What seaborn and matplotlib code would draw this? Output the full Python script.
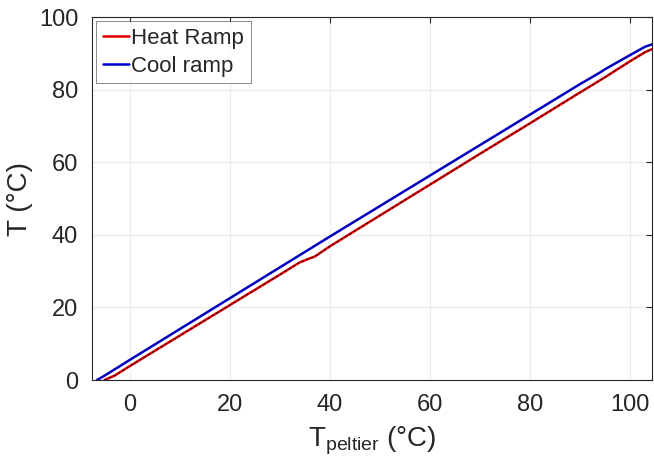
import matplotlib
matplotlib.use("Agg")
import matplotlib.pyplot as plt
import seaborn as sns
import pandas as pd

heat_x = [-5.0, -3.0, 0.0, 10.0, 20.0, 30.0, 34.0, 36.0, 37.0, 40.0, 50.0, 60.0, 70.0, 80.0, 90.0, 95.0, 100.0, 103.0, 104.5]
heat_y = [0.0, 1.2, 3.8, 12.2, 20.6, 29.0, 32.4, 33.5, 34.0, 36.8, 45.3, 53.8, 62.3, 70.7, 79.2, 83.4, 87.8, 90.3, 91.2]
cool_x = [-6.5, -5.0, 0.0, 10.0, 20.0, 30.0, 40.0, 50.0, 60.0, 70.0, 80.0, 90.0, 94.0, 95.0, 100.0, 103.0, 104.5]
cool_y = [0.0, 1.2, 5.5, 14.0, 22.5, 31.0, 39.5, 47.9, 56.3, 64.7, 73.1, 81.5, 84.7, 85.6, 89.5, 91.8, 92.5]

xticks = [0, 20, 40, 60, 80, 100]
yticks = [0, 20, 40, 60, 80, 100]

sns.set_theme(style="white")
plt.rcParams['font.family'] = ['Liberation Sans', 'DejaVu Sans']
plt.rcParams['mathtext.fontset'] = 'custom'
plt.rcParams['mathtext.rm'] = 'Liberation Sans'
plt.rcParams['mathtext.it'] = 'Liberation Sans'

df_h = pd.DataFrame({"x": heat_x, "y": heat_y})
df_c = pd.DataFrame({"x": cool_x, "y": cool_y})

fig = plt.figure(figsize=(6.54, 4.66), dpi=100)
ax = fig.add_axes([0.1407, 0.1845, 0.857, 0.779])

sns.lineplot(data=df_h, x="x", y="y", ax=ax, sort=False, color="#e00000", lw=1.8, label="Heat Ramp", estimator=None)
sns.lineplot(data=df_c, x="x", y="y", ax=ax, sort=False, color="#0000d0", lw=1.8, label="Cool ramp", estimator=None)
ax.plot(df_h["x"], df_h["y"], color="black", lw=0.6, ls=(0, (3, 3)), zorder=3)
ax.plot(df_c["x"], df_c["y"], color="#101040", lw=0.5, ls=(0, (2, 4)), zorder=3)

ax.set_xlim(-7.5, 104.5)
ax.set_ylim(0, 100)
ax.set_xticks(xticks)
ax.set_yticks(yticks)
ax.grid(True, color="#ebebeb", lw=0.8)
ax.set_axisbelow(True)
for s in ax.spines.values():
    s.set_color("#262626")
    s.set_linewidth(0.8)
ax.tick_params(axis="both", direction="in", length=4, width=0.8, colors="#262626",
               labelsize=17, top=True, right=True, labelcolor="#262626")
ax.tick_params(axis="x", pad=10)
ax.tick_params(axis="y", pad=10)
ax.set_xlabel(r"T$_{\mathrm{peltier}}$ (°C)", fontsize=20, color="#262626", labelpad=6)
ax.set_ylabel("T (°C)", fontsize=20, color="#262626", labelpad=4)

leg = ax.legend(loc="upper left", fontsize=16, frameon=True, fancybox=False,
                handlelength=1.15, handletextpad=0.12, borderpad=0.3, labelspacing=0.3,
                borderaxespad=0.2, edgecolor="#555555")
leg.get_frame().set_linewidth(0.6)

fig.savefig("out.png", dpi=100)
